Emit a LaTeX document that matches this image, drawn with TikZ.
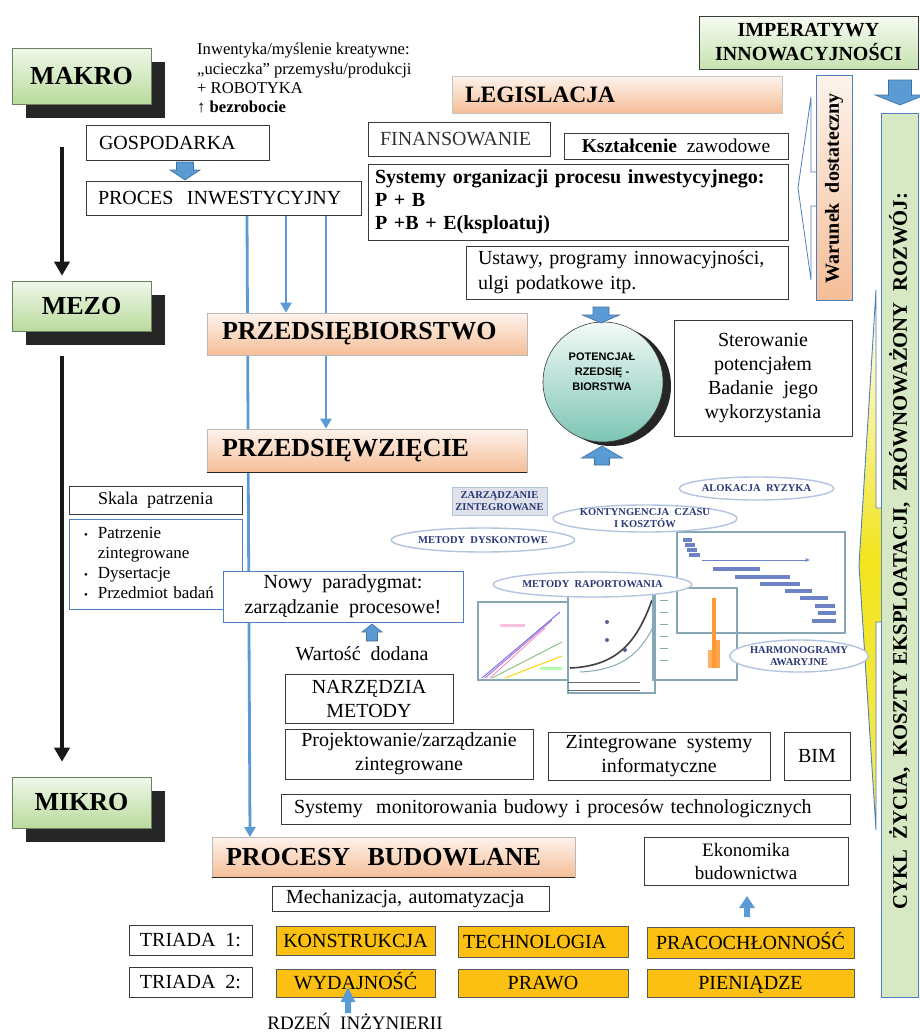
\documentclass[tikz,border=0pt]{standalone}
\usepackage{fontspec}
\setmainfont{Liberation Serif}
\newfontfamily\sansf{Liberation Sans}
\usetikzlibrary{arrows.meta,shapes.geometric}
\pgfdeclarelayer{bg}
\pgfsetlayers{bg,main}
\newcommand\fs[2]{\fontsize{#1}{#2}\selectfont}
% block arrow: [style]{cx}{ytail}{yheadbase}{ytip}{shaft width}{head width}
\newcommand\barrow[7][blockar]{\filldraw[#1] ({#2-#6/2},#3) -- ({#2+#6/2},#3) -- ({#2+#6/2},#4) -- ({#2+#7/2},#4) -- (#2,#5) -- ({#2-#7/2},#4) -- ({#2-#6/2},#4) -- cycle;}
\definecolor{boxgray}{HTML}{3A3A3A}
\definecolor{bluef}{HTML}{5B9BD5}
\definecolor{blued}{HTML}{41719C}
\definecolor{bluebd}{HTML}{4F7FBF}
\definecolor{gtop}{HTML}{F0F8EA}
\definecolor{gbot}{HTML}{B9DB9C}
\definecolor{lvlborder}{HTML}{6E7F62}
\definecolor{otop}{HTML}{FDF3EC}
\definecolor{obot}{HTML}{F5BE98}
\definecolor{goldc}{HTML}{FBC012}
\definecolor{greenbar}{HTML}{D6E8C4}
\definecolor{ctop}{HTML}{F3FAF7}
\definecolor{cbot}{HTML}{7CC5B4}
\definecolor{navyc}{HTML}{2A3878}
\definecolor{ellc}{HTML}{B3C4DE}
\definecolor{chartc}{HTML}{86A8B4}
\definecolor{ganttc}{HTML}{4A63B8}
\definecolor{callyel}{HTML}{F2E41C}
\tikzset{
  box/.style={draw=boxgray, line width=0.9pt, fill=white, inner sep=0pt, font=\fs{20}{24}},
  bluebox/.style={box, draw=bluebd},
  lvl/.style={draw=lvlborder, line width=0.6pt, top color=gtop, bottom color=gbot, inner sep=0pt,
     font=\fs{26}{30}\bfseries, minimum width=139pt, minimum height=54pt},
  lvlshadow/.style={fill=black!85},
  obar/.style={draw=gray!55, line width=0.7pt, top color=otop, bottom color=obot, inner sep=0pt,
     font=\fs{26}{30}\bfseries, align=left},
  gold/.style={fill=goldc, draw=black!65, line width=0.6pt, inner sep=0pt, font=\fs{20}{24},
     text height=13.5pt, text depth=0pt},
  capbox/.style={box, text height=13.5pt, text depth=0pt},
  blockar/.style={fill=bluef, draw=blued, line width=0.6pt},
  thinar/.style={fill=bluef, draw=none},
  bline/.style={draw=bluef, line width=2.8pt, -{Triangle[width=11pt,length=10pt]}},
  kline/.style={draw=black!90, line width=4.5pt, -{Triangle[width=15pt,length=14pt]}},
  imgel/.style={ellipse, draw=ellc, line width=1.4pt, fill=white, inner sep=0pt,
     font=\fs{10.5}{12}\bfseries, text=navyc, align=center},
  chart/.style={draw=chartc, line width=1.1pt}
}
\begin{document}
\begin{tikzpicture}[x=1pt,y=-1pt]
\useasboundingbox (0,0) rectangle (920,1034);

% ---------- level boxes ----------
\fill[lvlshadow] (26,62) rectangle (165,118);
\node[lvl, minimum height=56pt] (makro) at (81.5,76) {MAKRO};
\fill[lvlshadow] (26,295) rectangle (165,345);
\node[lvl, minimum height=50pt] (mezo) at (81.5,306) {MEZO};
\fill[lvlshadow] (26,791) rectangle (165,842);
\node[lvl, minimum height=51pt] (mikro) at (81.5,802.5) {MIKRO};

\coordinate (ka) at (62,147);
\coordinate (kb) at (62,356);
\draw[kline, shorten >=5pt] (ka) -- (mezo.north -| ka);
\draw[kline, shorten >=15pt] (kb) -- (mikro.north -| kb);

% ---------- top left text ----------
\node[anchor=north west, align=left, inner sep=0pt, font=\fs{16.6}{19.4}] (inw) at (197,43)
  {Inwentyka/myślenie kreatywne:\\„ucieczka” przemysłu/produkcji\\+ ROBOTYKA\\↑ \textbf{bezrobocie}};

\node[box, inner xsep=13pt, text width=157pt, minimum height=35pt, align=left] (gosp) at (177.5,142.5) {GOSPODARKA};
\node[box, inner xsep=12pt, text width=251pt, minimum height=34pt, align=left] (proces) at (223.5,198) {PROCES\ \ INWESTYCYJNY};
\barrow{185}{162}{170}{180}{17}{30}

% ---------- legislation column ----------
\node[obar, draw=gray!45, inner xsep=13pt, text width=304pt, minimum height=37pt, font=\fs{23.5}{28}\bfseries] (legis) at (617,94.5) {LEGISLACJA};
\node[box, inner xsep=12pt, text width=158pt, minimum height=34pt, align=left, text=black!80] (finans) at (459,139) {FINANSOWANIE};
\node[box, minimum width=224pt, minimum height=26pt, font=\fs{19.5}{24}] (kszt) at (676,146) {\textbf{Kształcenie}\ \ zawodowe};
\node[box, inner xsep=7pt, text width=406pt, minimum height=76pt, align=left, font=\fs{20}{23}\bfseries] (sysorg) at (578,202)
  {\makebox[398pt][s]{Systemy organizacji procesu inwestycyjnego:}\\P + B\\P +B + E(ksploatuj)};
\node[box, inner xsep=12pt, text width=298pt, minimum height=53pt, align=left, font=\fs{20}{25}] (ustawy) at (627,272.5)
  {\makebox[292pt][s]{Ustawy, programy innowacyjności,}\\ulgi podatkowe itp.};

% ---------- right column ----------
\node[lvl, draw=boxgray, minimum width=219pt, minimum height=53pt, font=\fs{20}{24}\bfseries, align=center, top color=gtop!60!white, bottom color=gbot!80!white] (imper) at (808.5,42.5) {IMPERATYWY\\INNOWACYJNOŚCI};
\path[draw=bluebd, line width=0.8pt, top color=otop, bottom color=obot] (816,75) rectangle (852,300);
\node[rotate=90, inner sep=0pt, font=\fs{20}{24}\bfseries] (war) at (834,188) {Warunek\ \ dostateczny};
\draw[bluebd, line width=0.8pt] (816,172) -- (811,172) -- (811,97) -- (798,188) -- (811,280) -- (811,206) -- (816,206);

\barrow{900}{80}{95}{105}{23}{50}
\path[draw=bluebd, line width=0.9pt, fill=greenbar] (881,113) rectangle (918,997);
\path[top color=white, bottom color=callyel!70, middle color=callyel] (881,508) -- (876,508) -- (876,290) -- (859,565) -- (876,830) -- (876,622) -- (881,622) -- cycle;
\draw[bluebd, line width=0.9pt] (881,508) -- (876,508) -- (876,290) -- (859,565) -- (876,830) -- (876,622) -- (881,622);
\node[rotate=90, inner sep=0pt, font=\fs{20.7}{24}\bfseries] (cykl) at (899.5,551)
  {CYKL\ \ ŻYCIA,\ \ KOSZTY\ EKSPLOATACJI,\ \ ZRÓWNOWAŻONY\ \ ROZWÓJ:};

% ---------- middle ----------
\node[obar, inner xsep=15pt, text width=290pt, minimum height=42pt] (przedsieb) at (367,334) {PRZEDSIĘBIORSTWO};
\node[obar, inner xsep=15pt, text width=290pt, minimum height=43pt] (przedsiew) at (367,450.5) {PRZEDSIĘWZIĘCIE};
\draw[black!85, line width=1pt] (przedsiew.south west) -- (przedsiew.south east);

\fill[black!85] (611,386) circle (60);
\path[draw=boxgray, line width=0.6pt, top color=ctop, bottom color=cbot] (603,382) circle (60);
\node[align=center, inner sep=0pt, font=\fs{11}{15}\sansf\bfseries] (pot) at (602,372) {POTENCJAŁ\\RZEDSIĘ -\\BIORSTWA};
\barrow{601}{307}{315}{323}{16}{37}
\barrow{602}{465}{458}{446}{15}{41}
\node[box, minimum width=178pt, minimum height=116pt, align=center, font=\fs{20}{24}] (sterow) at (763,378)
  {Sterowanie\\potencjałem\\Badanie\ \ jego\\wykorzystania};

% ---------- left middle ----------
\node[box, minimum width=173pt, minimum height=28pt, font=\fs{18}{22}] (skala) at (155.5,500) {Skala\ \ patrzenia};
\node[bluebox, inner xsep=15pt, text width=143pt, minimum height=90pt, align=left, font=\fs{17}{20}] (bullets) at (155.5,564)
  {\begin{tabular}{@{}l@{\hspace{10pt}}l@{}}
   {\fs{11}{20}\textbullet} & Patrzenie\\
    & zintegrowane\\
   {\fs{11}{20}\textbullet} & Dysertacje\\
   {\fs{11}{20}\textbullet} & Przedmiot badań
   \end{tabular}};

% ---------- image region ----------
\draw[chart] (677,532) rectangle (845,633);
\foreach \a/\b/\y in {683/692/538, 685/695/543, 687/697/548, 689/700/553, 713/760/567, 735/790/575, 760/800/582, 785/812/589, 800/828/596, 815/835/604, 818/836/611, 812/836/619}
  \fill[ganttc!80] (\a,\y) rectangle (\b,\y+3.5);
\draw[ganttc!80, line width=1pt, -{Stealth[length=5pt]}] (702,560) -- (810,560);
\draw[chart] (478,602) rectangle (568,680);
\draw[blue!55, line width=1pt] (482,678) -- (560,612);
\draw[violet!55, line width=1pt] (485,678) -- (552,620);
\draw[magenta!40, line width=1pt] (490,678) -- (545,628);
\draw[green!45!black!45, line width=1pt] (492,678) -- (562,642);
\draw[yellow!70!orange, line width=1pt] (505,678) -- (562,656);
\fill[magenta!25] (500,624) rectangle (525,627);
\fill[green!30] (540,667) rectangle (562,670);
\draw[chart] (568,593) rectangle (655,693);
\draw[black!75, line width=1.6pt] (570,668) .. controls (615,666) and (636,645) .. (652,600);
\draw[chartc, line width=1pt] (580,672) .. controls (620,670) and (640,655) .. (654,625);
\fill[navyc!80] (607,622) circle (2) (607,640) circle (2) (625,650) circle (2);
\draw[black!60, line width=1pt] (568,682) -- (640,682) (568,690) -- (640,690);
\draw[chart] (653,588) rectangle (737,680);
\fill[orange!80] (712,598) rectangle (716,668);
\fill[orange!70] (716,640) rectangle (720,668);
\fill[orange!60] (708,650) rectangle (712,668);
\foreach \y in {600,612,624,636,648,660} \draw[chartc] (660,\y) -- (668,\y);

\node[draw=ellc, fill=navyc!15, line width=1pt, minimum width=95pt, minimum height=28pt, inner sep=0pt, font=\fs{10.5}{12}\bfseries, text=navyc, align=center] (zz) at (499.5,501) {ZARZĄDZANIE\\ZINTEGROWANE};
\node[imgel, minimum width=170pt, minimum height=27pt] (kont) at (645,518.5) {KONTYNGENCJA\ \ CZASU\\I KOSZTÓW};
\node[imgel, minimum width=143pt, minimum height=23pt] (alok) at (756.5,488.5) {ALOKACJA\ \ RYZYKA};
\node[imgel, minimum width=166pt, minimum height=24pt] (dysk) at (483,540) {METODY\ \ DYSKONTOWE};
\node[imgel, minimum width=189pt, minimum height=25pt] (rap) at (592.5,584.5) {METODY\ \ RAPORTOWANIA};
\node[imgel, minimum width=122pt, minimum height=32pt] (harm) at (799,656) {HARMONOGRAMY\\AWARYJNE};

% ---------- lower middle ----------
\node[bluebox, minimum width=240pt, minimum height=51pt, align=center, font=\fs{20}{25}] (nowy) at (343,596.5)
  {Nowy\ \ paradygmat:\\zarządzanie\ \ procesowe!};
\barrow{372}{641}{632}{624}{11}{20}
\node[inner sep=0pt, font=\fs{20}{24}] (wart) at (362,654) {Wartość\ \ dodana};
\node[box, minimum width=168pt, minimum height=49pt, align=center] (narz) at (369,698.5) {NARZĘDZIA\\METODY};
\node[box, minimum width=248pt, minimum height=50pt, align=center] (proj) at (409,754) {Projektowanie/zarządzanie\\zintegrowane};
\node[box, minimum width=222pt, minimum height=48pt, align=center] (zint) at (659,756) {Zintegrowane\ \ systemy\\informatyczne};
\node[capbox, minimum width=66pt, minimum height=48pt] (bim) at (817,756) {BIM};
\node[box, inner xsep=13pt, text width=543pt, minimum height=30pt, align=left] (monit) at (565.5,809)
  {Systemy\ \ monitorowania budowy i procesów technologicznych};

\node[obar, inner xsep=14pt, text width=335pt, minimum height=40pt, text height=17pt, text depth=0pt] (procesy) at (393.5,857) {PROCESY\ \ BUDOWLANE};
\draw[black!85, line width=1pt] (procesy.south west) -- (procesy.south east);
\node[box, minimum width=204pt, minimum height=48pt, align=center, font=\fs{19}{23}] (ekon) at (746,861) {Ekonomika\\budownictwa};
\node[box, inner xsep=14pt, text width=249pt, minimum height=25pt, align=left] (mech) at (410.5,898.5) {Mechanizacja, automatyzacja};
\barrow[thinar]{747}{917}{908}{896}{6}{16}

\node[capbox, minimum width=123pt, minimum height=30pt] (tri1) at (190.5,940) {TRIADA\ \ 1:};
\node[capbox, minimum width=123pt, minimum height=30pt] (tri2) at (190.5,982) {TRIADA\ \ 2:};
\node[gold, minimum width=159pt, minimum height=29pt] (kon) at (355.5,940.5) {KONSTRUKCJA};
\node[gold, inner xsep=5pt, text width=160pt, minimum height=31pt, align=left] (tech) at (543,941.5) {TECHNOLOGIA};
\node[gold, minimum width=207pt, minimum height=31pt] (prac) at (750.5,942.5) {PRACOCHŁONNOŚĆ};
\node[gold, minimum width=159pt, minimum height=28pt] (wyd) at (355.5,983) {WYDAJNOŚĆ};
\node[gold, minimum width=170pt, minimum height=28pt] (praw) at (543,983) {PRAWO};
\node[gold, minimum width=207pt, minimum height=28pt] (pien) at (750.5,983) {PIENIĄDZE};
\barrow[thinar]{348}{1013}{1002}{987}{6}{15}
\node[inner sep=0pt, font=\fs{19}{23}] (rdzen) at (355,1021) {RDZEŃ\ \ INŻYNIERII};

% ---------- blue connectors (behind boxes) ----------
\coordinate (b1x) at (247,0);
\coordinate (b2x) at (286,0);
\coordinate (b3x) at (326,0);
\coordinate (b1e) at (250,837);
\begin{pgfonlayer}{bg}
\draw[bline] (proces.south -| b1x) -- (b1e);
\draw[bline] (proces.south -| b2x) -- (przedsieb.north -| b2x);
\draw[bline] (proces.south -| b3x) -- (przedsiew.north -| b3x);
\end{pgfonlayer}
\end{tikzpicture}
\end{document}
